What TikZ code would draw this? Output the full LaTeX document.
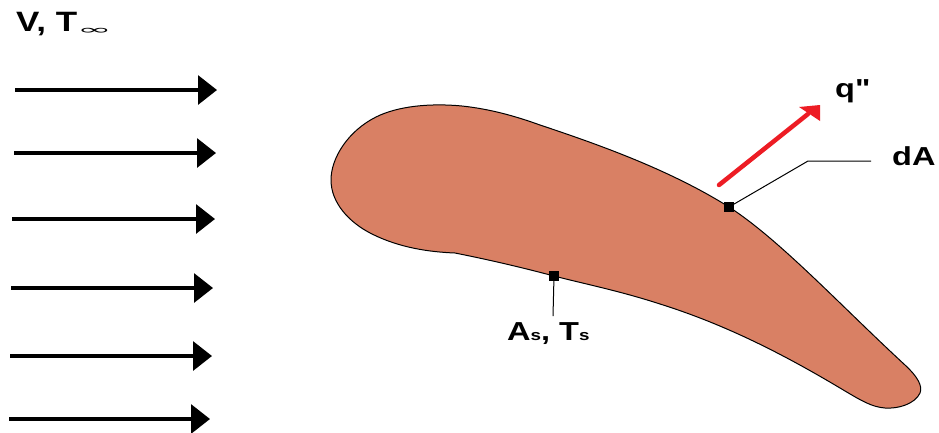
\documentclass[tikz,border=0pt]{standalone}
\usepackage{fontspec}
\usepackage{graphicx}
\setmainfont{Liberation Sans}[FakeStretch=1.25]
\newfontfamily\rawfont{Liberation Sans}[FakeStretch=1.25]
\newfontfamily\plainfont{DejaVu Sans}
\usetikzlibrary{arrows.meta}
\definecolor{bladefill}{RGB}{217,128,100}
\definecolor{heatred}{RGB}{237,28,36}
\tikzset{
  flow/.style={line width=3.2pt,-{Triangle[length=19pt,width=29pt]}},
  heat/.style={heatred,line width=4.5pt,line cap=round},
  heathead/.style={fill=heatred,draw=none},
  leader/.style={black,line width=1pt},
  marker/.style={fill=black,draw=none,minimum size=10pt,inner sep=0pt,outer sep=0pt},
  lab/.style={font=\bfseries\fontsize{26}{28}\selectfont,inner sep=0pt,anchor=base west}
}
\begin{document}
\begin{tikzpicture}[x=1pt,y=-1pt]
\useasboundingbox (0,0) rectangle (939,432);
\fill[white] (0,0) rectangle (939,432);
% blade
\draw[fill=bladefill,draw=black,line width=1pt]
 (331,180) .. controls (331,158) and (348,131) .. (376,117)
 .. controls (398,106) and (430,103) .. (462,106)
 .. controls (490,109) and (515,116) .. (540,125)
 .. controls (600,145) and (670,170) .. (729,207)
 .. controls (780,240) and (840,305) .. (905,365)
 .. controls (917,376) and (923,386) .. (920,393)
 .. controls (915,404) and (898,409) .. (885,408)
 .. controls (872,407) and (862,401) .. (845,391)
 .. controls (790,358) and (730,326) .. (660,304)
 .. controls (620,291) and (585,284) .. (554,276)
 .. controls (520,267) and (490,260) .. (455,253)
 .. controls (430,252) and (400,248) .. (372,234)
 .. controls (348,222) and (331,202) .. (331,180) -- cycle;
% flow arrows
\foreach \n/\xa/\xb/\yy in {a/15/217/90,b/14/216/153,c/12/215/219,d/11/213/288,e/10/212/356,f/9/210/419}{
  \coordinate (s\n) at (\xa,\yy);
  \coordinate (t\n) at (\xb,\yy);
  \draw[flow] (s\n) -- (t\n);
}
% labels
\node[lab] (vt) at (16,31) {\fontsize{28}{30}\selectfont V, T\raisebox{-3pt}{\plainfont\mdseries\scalebox{2.6}[0.8]{\fontsize{16}{16}\selectfont ∞}}};
\node[lab] (q) at (835,97) {q{\rawfont\bfseries "}};
\node[lab] (da) at (892,165) {dA};
\node[lab] (as) at (507,340) {A\fontsize{15}{16}\selectfont s\fontsize{26}{28}\selectfont, T\fontsize{15}{16}\selectfont s};
% markers
\node[marker] (m1) at (729,207) {};
\node[marker] (m2) at (554,276) {};
% leaders
\coordinate (elbow) at (808,161);
\coordinate (leadend) at (871,161);
\coordinate (asend) at (553,316);
\draw[leader] (m1) -- (elbow) -- (leadend);
\draw[leader] (m2) -- (asend);
% heat arrow
\coordinate (hs) at (719,185);
\coordinate (ht) at (808,114);
\coordinate (ha) at (799,107);
\coordinate (hb) at (820,105);
\coordinate (hc) at (820,121);
\draw[heat] (hs) -- (ht);
\fill[heathead] (ha) -- (hb) -- (hc) -- cycle;
\end{tikzpicture}
\end{document}
